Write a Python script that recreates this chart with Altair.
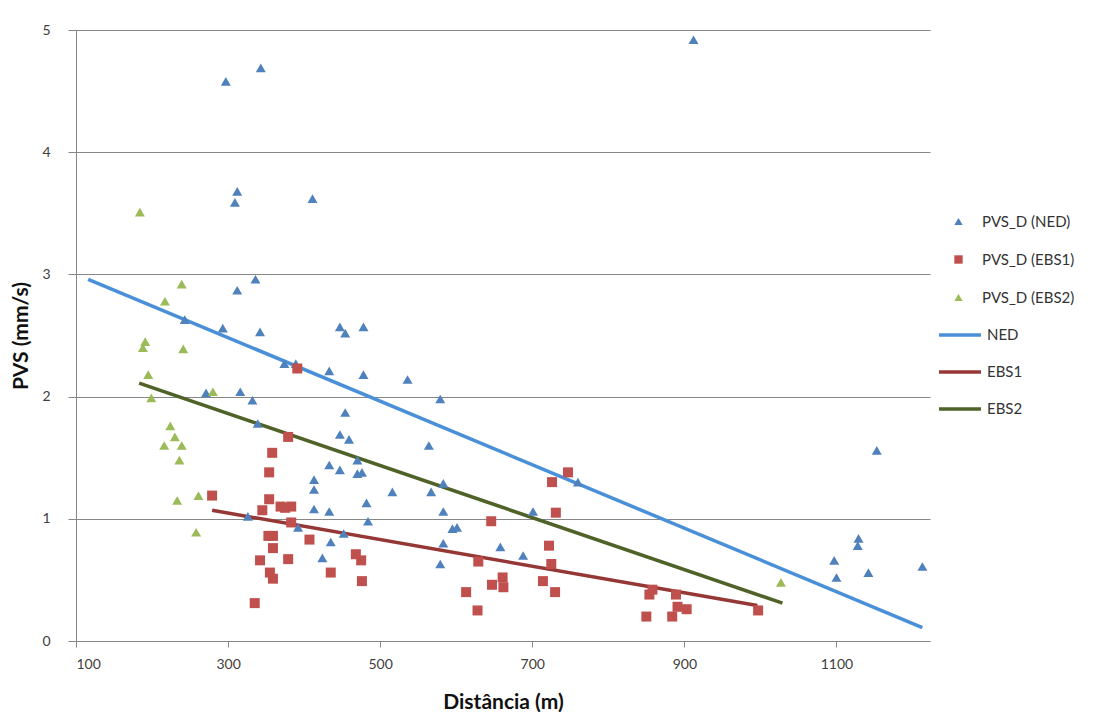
import altair as alt
import pandas as pd

# ---------------- data ----------------
ned_x = [297, 343, 912, 312, 309, 411, 336, 312, 243, 293, 342, 447, 454, 478,
         374, 389, 433, 478, 536, 271, 316, 332, 579, 454, 339, 447, 459, 564,
         433, 447, 470, 470, 476, 413, 413, 516, 567, 583, 760, 413, 433, 482,
         484, 583, 701, 326, 392, 452, 595, 601, 435, 583, 658, 424, 688, 579,
         1153, 1129, 1128, 1097, 1100, 1142, 1213]
ned_y = [4.58, 4.69, 4.92, 3.68, 3.59, 3.62, 2.96, 2.87, 2.63, 2.56, 2.53, 2.57, 2.52, 2.57,
         2.27, 2.27, 2.21, 2.18, 2.14, 2.03, 2.04, 1.97, 1.98, 1.87, 1.78, 1.69, 1.65, 1.60,
         1.44, 1.40, 1.48, 1.37, 1.38, 1.32, 1.24, 1.22, 1.22, 1.29, 1.30, 1.08, 1.06, 1.13,
         0.98, 1.06, 1.06, 1.02, 0.93, 0.88, 0.92, 0.93, 0.81, 0.80, 0.77, 0.68, 0.70, 0.63,
         1.56, 0.84, 0.78, 0.66, 0.52, 0.56, 0.61]

ebs1_x = [391, 379, 358, 354, 279, 354, 345, 369, 383, 375, 383, 353, 359, 407,
          359, 342, 379, 468, 475, 355, 359, 435, 476, 335, 747, 726, 731, 646,
          722, 629, 725, 661, 647, 662, 714, 613, 730, 628, 858, 854, 889, 891,
          903, 850, 884, 997]
ebs1_y = [2.23, 1.67, 1.54, 1.38, 1.19, 1.16, 1.07, 1.10, 1.10, 1.09, 0.97, 0.86, 0.86, 0.83,
          0.76, 0.66, 0.67, 0.71, 0.66, 0.56, 0.51, 0.56, 0.49, 0.31, 1.38, 1.30, 1.05, 0.98,
          0.78, 0.65, 0.63, 0.52, 0.46, 0.44, 0.49, 0.40, 0.40, 0.25, 0.42, 0.38, 0.38, 0.28,
          0.26, 0.20, 0.20, 0.25]

ebs2_x = [184, 239, 217, 191, 188, 241, 195, 199, 280, 224, 230, 216, 239, 236,
          233, 261, 258, 1027]
ebs2_y = [3.51, 2.92, 2.78, 2.45, 2.40, 2.39, 2.18, 1.99, 2.04, 1.76, 1.67, 1.60, 1.60, 1.48,
          1.15, 1.19, 0.89, 0.48]

series_names = ["PVS_D (NED)", "PVS_D (EBS1)", "PVS_D (EBS2)"]
series_colors = ["#4F81BD", "#C0504D", "#9BBB59"]
series_shapes = ["triangle-up", "square", "triangle-up"]

trend_names = ["NED", "EBS1", "EBS2"]
trend_colors = ["#4A90D9", "#953735", "#4F6228"]
trend_x0 = [116, 279, 183]
trend_y0 = [2.96, 1.07, 2.11]
trend_x1 = [1213, 996, 1029]
trend_y1 = [0.11, 0.29, 0.31]

x_ticks = [100, 300, 500, 700, 900, 1100]
y_ticks = [0, 1, 2, 3, 4, 5]

# ---------------- tables ----------------
rows = []
for name, xs, ys in zip(series_names, [ned_x, ebs1_x, ebs2_x], [ned_y, ebs1_y, ebs2_y]):
    for xv, yv in zip(xs, ys):
        rows.append({"x": xv, "y": yv, "series": name})
pts = pd.DataFrame(rows)

lrows = []
for i, n in enumerate(trend_names):
    lrows.append({"x": trend_x0[i], "y": trend_y0[i], "trend": n})
    lrows.append({"x": trend_x1[i], "y": trend_y1[i], "trend": n})
ldf = pd.DataFrame(lrows)

FONT = "Lato"
xscale = alt.Scale(domain=[100, 1223], nice=False, zero=False)
yscale = alt.Scale(domain=[0, 5], nice=False, zero=True)

x_enc = alt.X("x:Q", scale=xscale,
              axis=alt.Axis(values=x_ticks, format="d", title="Distância (m)", grid=False,
                            tickSize=6, labelPadding=10, titlePadding=20))
y_enc = alt.Y("y:Q", scale=yscale,
              axis=alt.Axis(values=y_ticks, format="d", title="PVS (mm/s)", grid=True,
                            tickSize=8, labelPadding=18, titlePadding=10))

lines = alt.Chart(ldf).mark_line(strokeWidth=3.5).encode(
    x=x_enc, y=y_enc,
    stroke=alt.Stroke("trend:N", scale=alt.Scale(domain=trend_names, range=trend_colors),
                      legend=alt.Legend(title=None, orient="none", legendX=861, legendY=282,
                                        symbolType="stroke", symbolSize=1760,
                                        symbolStrokeWidth=3.5, labelOffset=4,
                                        rowPadding=6, padding=0)),
    detail="trend:N",
)

leg_pts = alt.Legend(title=None, orient="none", legendX=875, legendY=184,
                     symbolSize=70, labelOffset=16, rowPadding=22, padding=0,
                     symbolStrokeWidth=0)
points = alt.Chart(pts).mark_point(filled=True, opacity=1, size=100, strokeWidth=0).encode(
    x=x_enc, y=y_enc,
    color=alt.Color("series:N", scale=alt.Scale(domain=series_names, range=series_colors),
                    legend=leg_pts),
    shape=alt.Shape("series:N", scale=alt.Scale(domain=series_names, range=series_shapes),
                    legend=leg_pts),
)

chart = alt.layer(lines, points).resolve_scale(
    stroke="independent"
).properties(
    width=854, height=611,
    autosize=alt.AutoSizeParams(type="none"),
    padding={"left": 68, "top": 22, "right": 159, "bottom": 71},
).configure_view(stroke=None).configure_axis(
    labelFont=FONT, titleFont=FONT, labelFontSize=14, labelColor="#404040",
    titleFontSize=21, titleFontWeight="bold", titleColor="#111111",
    domainColor="#868686", tickColor="#868686", gridColor="#868686",
    domainWidth=1, gridWidth=1,
).configure_legend(
    labelFont=FONT, labelFontSize=15, labelColor="#333333", labelFontWeight="normal",
)

chart.save("out.html", embed_options={"renderer": "svg", "actions": False})
